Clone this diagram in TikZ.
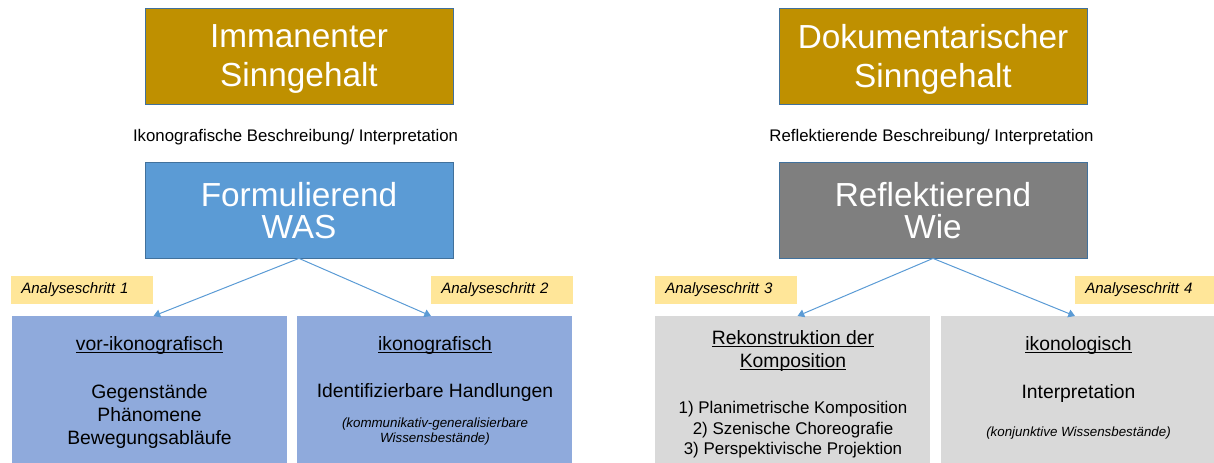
\documentclass[tikz,border=0pt]{standalone}
\usepackage{fontspec}
\setmainfont{Liberation Sans}
\usepackage{xcolor}
\usetikzlibrary{arrows.meta}
\definecolor{gold}{HTML}{BF9000}
\definecolor{blau}{HTML}{5B9BD5}
\definecolor{grau}{HTML}{7F7F7F}
\definecolor{hellblau}{HTML}{8FAADC}
\definecolor{hellgrau}{HTML}{D9D9D9}
\definecolor{gelb}{HTML}{FFE699}
\definecolor{rahmen}{HTML}{41719C}
\newcommand\unterstrich[1]{\setbox0\hbox{#1}\rlap{\rule[-2pt]{\wd0}{0.7pt}}\box0}
\tikzset{
  kopf/.style={draw=rahmen, line width=0.6pt, text=white, align=center,
    minimum width=231pt, minimum height=72pt, inner sep=0pt, text depth=0pt,
    font=\fontsize{25}{29.25}\selectfont},
  feld/.style={anchor=north west, minimum width=206.25pt, minimum height=112.5pt, inner sep=0pt},
  schritt/.style={fill=gelb, anchor=west, text width=91.5pt, align=left, inner xsep=7.5pt,
    minimum height=21pt, font=\fontsize{11.3}{13}\selectfont\itshape},
  gross/.style={align=center, font=\fontsize{14.5}{17.25}\selectfont},
  klein/.style={align=center, font=\fontsize{10}{11.25}\selectfont\itshape},
  pfeil/.style={draw=blau, line width=0.75pt, -{Triangle[width=6pt,length=5pt]}}
}

\begin{document}
\begin{tikzpicture}[x=0.75pt, y=-0.75pt]
        \useasboundingbox (0,0) rectangle (1214,462);
        % linke Seite
        \node[kopf, fill=gold, text depth=-3pt] (imm) at (299,56) {Immanenter\\Sinngehalt};
        \node[font=\fontsize{12.6}{15}\selectfont] (ikb) at (295.5,137) {Ikonografische Beschreibung/ Interpretation};
        \node[kopf, fill=blau, font=\fontsize{25}{24}\selectfont] (form) at (299,210) {Formulierend\\WAS};
        \node[feld, fill=hellblau] (vor) at (12,316) {};
        \node[feld, fill=hellblau] (ikon) at (297,316) {};
        \node[schritt] (s1) at (11,290) {Analyseschritt 1};
        \node[schritt] (s2) at (431,290) {Analyseschritt 2};
        \node[gross] (vort) at (149.5,345) {\unterstrich{vor-ikonografisch}};
        \node[gross] (voril) at (149.5,416) {Gegenstände\\Phänomene\\Bewegungsabläufe};
        \node[gross] (ikont) at (435,345) {\unterstrich{ikonografisch}};
        \node[gross] (ikonh) at (435,392) {Identifizierbare Handlungen};
        \node[klein] (ikonk) at (435,432) {(kommunikativ-generalisierbare\\Wissensbestände)};
        \draw[pfeil] (form.south) -- (vor.north -| s1.east);
        \draw[pfeil] (form.south) -- (ikon.north -| s2.west);
        % rechte Seite
        \node[kopf, fill=gold, text depth=-3pt] (dok) at (933,56) {Dokumentarischer\\Sinngehalt};
        \node[font=\fontsize{12.6}{15}\selectfont] (rfb) at (931.5,137) {Reflektierende Beschreibung/ Interpretation};
        \node[kopf, fill=grau, font=\fontsize{25}{24}\selectfont] (refl) at (933,210) {Reflektierend\\Wie};
        \node[feld, fill=hellgrau] (rek) at (655,316) {};
        \node[feld, fill=hellgrau] (ikl) at (941,316) {};
        \node[schritt] (s3) at (655,290) {Analyseschritt 3};
        \node[schritt] (s4) at (1075,290) {Analyseschritt 4};
        \node[gross] (rekt) at (793,351) {\unterstrich{Rekonstruktion der}\\\unterstrich{Komposition}};
        \node[align=center, font=\fontsize{12.7}{15.4}\selectfont] (rekl) at (793,430) {1) Planimetrische Komposition\\2) Szenische Choreografie\\3) Perspektivische Projektion};
        \node[gross] (iklt) at (1078.5,345) {\unterstrich{ikonologisch}};
        \node[gross] (ikli) at (1078.5,393) {Interpretation};
        \node[klein] (iklk) at (1078.5,433) {(konjunktive Wissensbestände)};
        \draw[pfeil] (refl.south) -- (rek.north -| s3.east);
        \draw[pfeil] (refl.south) -- (ikl.north -| s4.west);
      \end{tikzpicture}
\end{document}
